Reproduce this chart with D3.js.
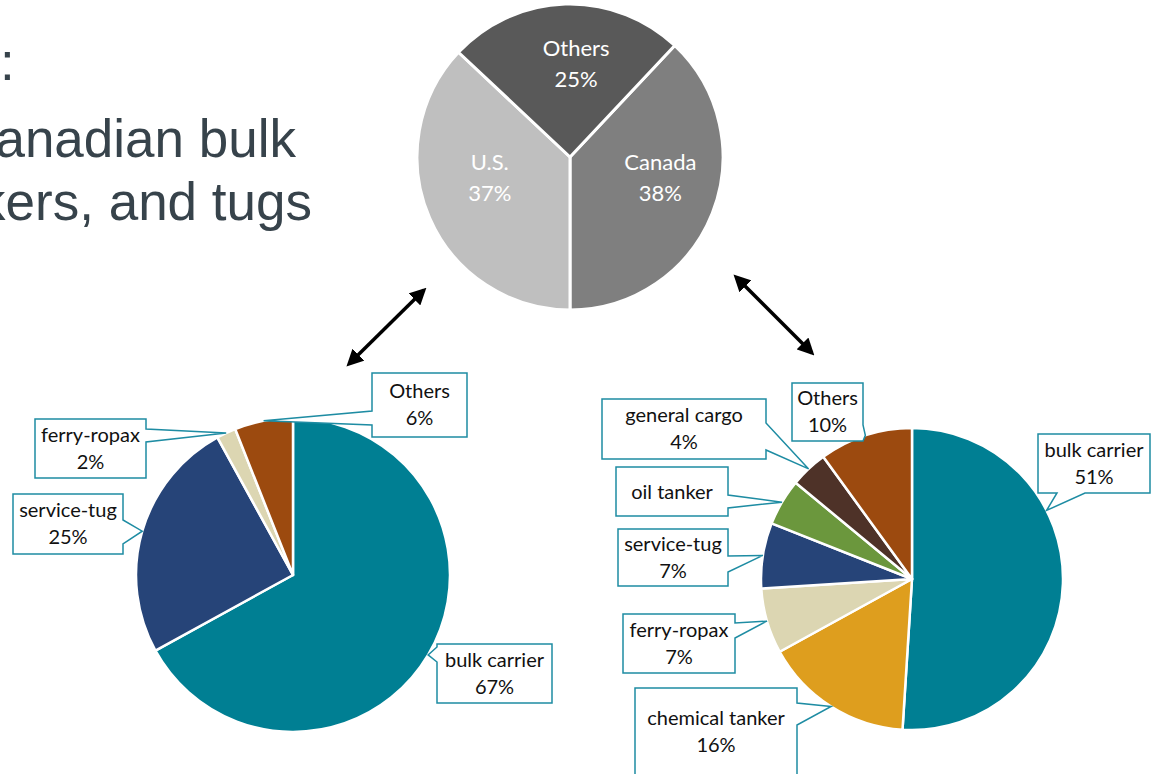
<!DOCTYPE html>
<html>
<head>
<meta charset="utf-8">
<script src="https://cdn.jsdelivr.net/npm/d3@7"></script>
<style>
  html, body { margin: 0; padding: 0; background: #ffffff; overflow: hidden; }
  svg { display: block; }
</style>
</head>
<body>
<svg id="chart" width="1151" height="774"></svg>
<script>
// ---------- data ----------
const titleLines = [":", "anadian bulk", "kers, and tugs"];

const topCats = ["Canada", "U.S.", "Others"];
const topVals = [38, 37, 25];

const leftCats = ["bulk carrier", "service-tug", "ferry-ropax", "Others"];
const leftVals = [67, 25, 2, 6];

const rightCats = ["bulk carrier", "chemical tanker", "ferry-ropax", "service-tug", "oil tanker", "general cargo", "Others"];
const rightVals = [51, 16, 7, 7, 5, 4, 10];
const rightShowPct = [true, true, true, true, false, true, true];

// ---------- styling / layout ----------
const topColors = ["#7f7f7f", "#bfbfbf", "#595959"];
const leftColors = ["#007f93", "#264478", "#dcd6b2", "#9c4a0f"];
const rightColors = ["#007f93", "#de9e1e", "#dcd6b2", "#264478", "#6b973d", "#4e3228", "#9c4a0f"];
const calloutStroke = "#1e8ca3";
const labelFont = "Lato, 'Open Sans', sans-serif";

const svg = d3.select("#chart");

// title fragments (clipped slide title)
const title = svg.append("g")
  .attr("font-family", "'Liberation Sans', Arial, sans-serif")
  .attr("font-size", 53)
  .attr("fill", "#37434b");
title.append("text").attr("x", 0).attr("y", 80).text(titleLines[0]);
title.append("text").attr("x", 296).attr("y", 157).attr("text-anchor", "end").text(titleLines[1]);
title.append("text").attr("x", 312).attr("y", 220).attr("text-anchor", "end").text(titleLines[2]);

// ---------- top pie ----------
const topC = { x: 570, y: 157, r: 153 };
const topStart = Math.PI - 2 * Math.PI * topVals[0] / d3.sum(topVals);
const topPie = d3.pie().sort(null).startAngle(topStart).endAngle(topStart + 2 * Math.PI)(topVals);
const topArc = d3.arc().innerRadius(0).outerRadius(topC.r);
const gTop = svg.append("g").attr("transform", `translate(${topC.x},${topC.y})`);
gTop.selectAll("path").data(topPie).join("path")
  .attr("d", topArc)
  .attr("fill", (d, i) => topColors[i])
  .attr("stroke", "#ffffff").attr("stroke-width", 3).attr("stroke-linejoin", "round");

const topLabelShift = [[5, -6], [4, -8], [9, 6]];
topPie.forEach((d, i) => {
  const m = (d.startAngle + d.endAngle) / 2;
  const lr = topC.r * 0.6;
  const x = lr * Math.sin(m) + topLabelShift[i][0];
  const y = -lr * Math.cos(m) + topLabelShift[i][1];
  const t = gTop.append("text").attr("text-anchor", "middle")
    .attr("font-family", labelFont).attr("font-size", 22).attr("fill", "#ffffff");
  t.append("tspan").attr("x", x).attr("y", y - 15).text(topCats[i]);
  t.append("tspan").attr("x", x).attr("y", y + 16).text(topVals[i] + "%");
});

// ---------- callout helper ----------
function calloutPath(c, tip) {
  const x0 = c.x, y0 = c.y, x1 = c.x + c.w, y1 = c.y + c.h;
  const T = `${tip[0]},${tip[1]}`;
  let p = `M${x0},${y0}`;
  if (c.side === "top") p += `L${c.b0},${y0}L${T}L${c.b1},${y0}`;
  p += `L${x1},${y0}`;
  if (c.side === "right") p += `L${x1},${c.b0}L${T}L${x1},${c.b1}`;
  p += `L${x1},${y1}`;
  if (c.side === "bottom") p += `L${c.b1},${y1}L${T}L${c.b0},${y1}`;
  p += `L${x0},${y1}`;
  if (c.side === "left") p += `L${x0},${c.b1}L${T}L${x0},${c.b0}`;
  return p + "Z";
}

function drawPie(center, cats, vals, colors, callouts, showPct) {
  const pie = d3.pie().sort(null).startAngle(0).endAngle(2 * Math.PI)(vals);
  const arc = d3.arc().innerRadius(0).outerRadius(center.r);
  const g = svg.append("g");
  const gp = g.append("g").attr("transform", `translate(${center.x},${center.y})`);
  gp.selectAll("path").data(pie).join("path")
    .attr("d", arc)
    .attr("fill", (d, i) => colors[i])
    .attr("stroke", "#ffffff").attr("stroke-width", 2.5).attr("stroke-linejoin", "round");

  pie.forEach((d, i) => {
    const c = callouts[i];
    const m = c.tipAngle !== undefined ? c.tipAngle * Math.PI / 180 : (d.startAngle + d.endAngle) / 2;
    const tip = [center.x + center.r * Math.sin(m), center.y - center.r * Math.cos(m)];
    g.append("path")
      .attr("d", calloutPath(c, tip))
      .attr("fill", "#ffffff")
      .attr("stroke", calloutStroke).attr("stroke-width", 1.5).attr("stroke-linejoin", "miter");
    const cx = c.x + c.w / 2;
    const cy = c.textCy !== undefined ? c.textCy : c.y + c.h / 2;
    const t = g.append("text").attr("text-anchor", "middle")
      .attr("font-family", labelFont).attr("font-size", 20).attr("fill", "#111111");
    if (showPct[i]) {
      t.append("tspan").attr("x", cx).attr("y", cy - 7).text(cats[i]);
      t.append("tspan").attr("x", cx).attr("y", cy + 20).text(vals[i] + "%");
    } else {
      t.append("tspan").attr("x", cx).attr("y", cy + 7).text(cats[i]);
    }
  });
}

// ---------- bottom-left pie ----------
const leftCenter = { x: 293, y: 575, r: 157 };
const leftCallouts = [
  { x: 437, y: 644, w: 115, h: 59, side: "left", b0: 647, b1: 662 },
  { x: 13, y: 494, w: 110, h: 60, side: "right", b0: 520, b1: 544 },
  { x: 35, y: 419, w: 111, h: 59, side: "right", b0: 429, b1: 442 },
  { x: 372, y: 373, w: 95, h: 64, side: "left", b0: 411, b1: 425 }
];
drawPie(leftCenter, leftCats, leftVals, leftColors, leftCallouts, leftVals.map(() => true));

// ---------- bottom-right pie ----------
const rightCenter = { x: 912, y: 579, r: 151 };
const rightCallouts = [
  { x: 1038, y: 434, w: 112, h: 59, side: "bottom", b0: 1057, b1: 1085, tipAngle: 63 },
  { x: 635, y: 688, w: 162, h: 110, side: "right", b0: 703, b1: 725, textCy: 732 },
  { x: 623, y: 614, w: 112, h: 59, side: "right", b0: 623, b1: 638 },
  { x: 618, y: 529, w: 110, h: 57, side: "right", b0: 556, b1: 572 },
  { x: 616, y: 467, w: 112, h: 49, side: "right", b0: 495, b1: 508 },
  { x: 602, y: 399, w: 164, h: 60, side: "right", b0: 423, b1: 450 },
  { x: 792, y: 383, w: 71, h: 58, side: "right", b0: 425, b1: 441 }
];
drawPie(rightCenter, rightCats, rightVals, rightColors, rightCallouts, rightShowPct);

// ---------- double-headed arrows ----------
const defs = svg.append("defs");
["start", "end"].forEach(k => {
  defs.append("marker")
    .attr("id", "ah-" + k)
    .attr("viewBox", "0 0 10 10")
    .attr("refX", k === "end" ? 8 : 2).attr("refY", 5)
    .attr("markerWidth", 4.8).attr("markerHeight", 4.8)
    .attr("markerUnits", "strokeWidth")
    .attr("orient", "auto-start-reverse")
    .append("path").attr("d", "M0,0L10,5L0,10Z").attr("fill", "#000000");
});
const arrows = [
  [[356, 357], [424, 290]],
  [[743, 284], [812, 353]]
];
arrows.forEach(a => {
  svg.append("line")
    .attr("x1", a[0][0]).attr("y1", a[0][1]).attr("x2", a[1][0]).attr("y2", a[1][1])
    .attr("stroke", "#000000").attr("stroke-width", 3.5)
    .attr("marker-start", "url(#ah-start)").attr("marker-end", "url(#ah-end)");
});
</script>
</body>
</html>
